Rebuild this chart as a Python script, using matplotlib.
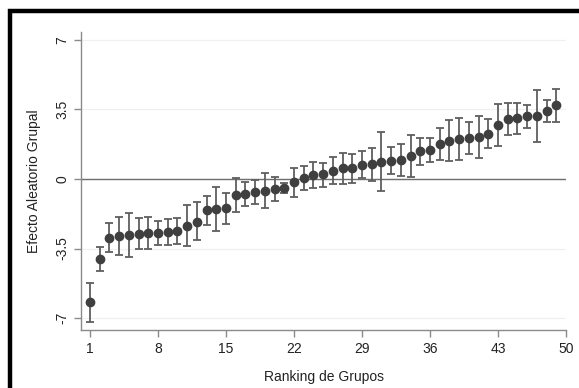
import numpy as np
import matplotlib
matplotlib.use("Agg")
import matplotlib.pyplot as plt
from matplotlib.patches import Rectangle

plt.rcParams['font.family'] = ['Liberation Sans', 'DejaVu Sans']

# group random effects (ranked), with upper / lower bounds
ranking = list(range(1, 50))
efecto = [-6.21, -4.04, -2.95, -2.89, -2.84, -2.77, -2.74, -2.70, -2.67, -2.62,
          -2.37, -2.15, -1.56, -1.51, -1.48, -0.81, -0.77, -0.64, -0.59, -0.50,
          -0.44, -0.17, 0.03, 0.21, 0.25, 0.42, 0.54, 0.54, 0.70, 0.74,
          0.86, 0.91, 0.96, 1.16, 1.41, 1.46, 1.76, 1.93, 2.01, 2.08,
          2.13, 2.27, 2.70, 3.02, 3.06, 3.17, 3.17, 3.44, 3.73]
superior = [-5.25, -3.44, -2.20, -1.93, -1.70, -1.98, -1.91, -2.10, -2.03, -1.95,
            -1.31, -1.17, -0.84, -0.42, -0.69, 0.03, -0.17, -0.05, 0.29, 0.12,
            -0.19, 0.54, 0.64, 0.84, 0.79, 1.12, 1.32, 1.24, 1.41, 1.55,
            2.35, 1.60, 1.76, 2.20, 2.08, 2.08, 2.58, 2.97, 3.09, 2.87,
            3.19, 3.01, 3.76, 3.81, 3.81, 3.73, 4.48, 3.98, 4.53]
inferior = [-7.18, -4.65, -3.69, -3.81, -3.94, -3.52, -3.51, -3.32, -3.31, -3.27,
            -3.39, -3.09, -2.33, -2.62, -2.27, -1.66, -1.38, -1.26, -1.46, -1.12,
            -0.72, -0.89, -0.57, -0.47, -0.40, -0.27, -0.27, -0.19, 0.03, -0.10,
            -0.62, 0.25, 0.17, 0.12, 0.69, 0.84, 0.96, 0.91, 0.94, 1.27,
            1.07, 1.56, 1.65, 2.22, 2.25, 2.57, 1.88, 2.89, 2.89]

xticks = [1, 8, 15, 22, 29, 36, 43, 50]
yticks = [-7, -3.5, 0, 3.5, 7]
ytick_labels = ['-7', '-3.5', '0', '3.5', '7']

efecto = np.array(efecto)
err = [efecto - np.array(inferior), np.array(superior) - efecto]

fig = plt.figure(figsize=(5.79, 3.88), dpi=100)
fig.patch.set_facecolor('white')
ax = fig.add_axes([81/579, 1-330/388, (566-81)/579, (330-32)/388])

for y in yticks:
    ax.axhline(y, color='#f0f0f0', lw=0.9, zorder=0)
ax.axhline(0, color='#6e6e6e', lw=1.0, zorder=1)

ax.errorbar(ranking, efecto, yerr=err, fmt='o', color='#3f3f3f', ms=6,
            ecolor='#5f5f5f', elinewidth=1.3, capsize=3.2, capthick=1.3, zorder=3)

ax.set_xlim(0.07, 50)
ax.set_ylim(-7.6, 7.4)
ax.set_xticks(xticks)
ax.set_yticks(yticks)
ax.set_yticklabels(ytick_labels, rotation=90, va='center')
for s in ['top', 'right']:
    ax.spines[s].set_visible(False)
for s in ['left', 'bottom']:
    ax.spines[s].set_color('#8a8a8a')
    ax.spines[s].set_linewidth(1.0)
ax.tick_params(colors='#8a8a8a', labelcolor='#222222', labelsize=10, length=5, width=1.0)
ax.set_xlabel('Ranking de Grupos', fontsize=10, color='#222222', labelpad=10)
ax.set_ylabel('Efecto Aleatorio Grupal', fontsize=10, color='#222222', labelpad=10)

# thick black frame (cut at right and bottom)
fig.patches.append(Rectangle((10/579, -0.05), 1.1, 1 - 11/388 + 0.05,
                             transform=fig.transFigure, fill=False,
                             edgecolor='black', lw=3.2, zorder=10))

fig.savefig('out.png', dpi=100)
